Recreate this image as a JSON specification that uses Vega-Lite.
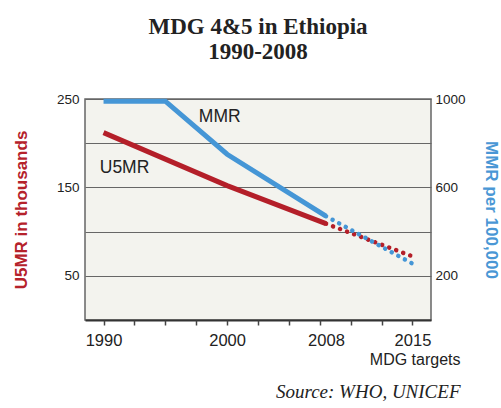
{
  "$schema": "https://vega.github.io/schema/vega-lite/v6.json",
  "width": 346,
  "height": 221,
  "padding": {"left": 12, "top": 16, "right": 0, "bottom": 0},
  "background": "white",
  "title": {
    "text": ["MDG 4&5 in Ethiopia", "1990-2008"],
    "font": "Liberation Serif",
    "fontSize": 23,
    "fontWeight": "bold",
    "color": "#222222",
    "lineHeight": 25,
    "offset": 27,
    "anchor": "middle"
  },
  "config": {
    "view": {"fill": "#f3f3ee", "stroke": "#666666", "strokeWidth": 1.5},
    "axis": {"labelFont": "Liberation Sans", "titleFont": "Liberation Sans", "labelColor": "#222222"}
  },
  "datasets": {
    "rates": [
      {"series": "U5MR", "part": "reported", "year": 1990, "value": 212},
      {"series": "U5MR", "part": "reported", "year": 2000, "value": 152},
      {"series": "U5MR", "part": "reported", "year": 2008, "value": 109},
      {"series": "U5MR", "part": "projected", "year": 2008, "value": 109},
      {"series": "U5MR", "part": "projected", "year": 2015, "value": 72},
      {"series": "U5MR", "part": "label", "year": 1991.7, "value": 172},
      {"series": "MMR", "part": "reported", "year": 1990, "value": 990},
      {"series": "MMR", "part": "reported", "year": 1995, "value": 990},
      {"series": "MMR", "part": "reported", "year": 2000, "value": 750},
      {"series": "MMR", "part": "reported", "year": 2008, "value": 470},
      {"series": "MMR", "part": "projected", "year": 2008, "value": 470},
      {"series": "MMR", "part": "projected", "year": 2015, "value": 255},
      {"series": "MMR", "part": "label", "year": 1999.4, "value": 918}
    ]
  },
  "data": {"name": "rates"},
  "layer": [
    {
      "encoding": {
        "x": {
          "field": "year",
          "type": "quantitative",
          "scale": {"domain": [1988.5, 2016.5], "nice": false, "zero": false},
          "axis": {
            "orient": "bottom",
            "values": [1990, 2000, 2008, 2015],
            "format": "d",
            "ticks": false,
            "grid": false,
            "domain": true,
            "domainColor": "#333333",
            "domainWidth": 2,
            "labelFontSize": 16.5,
            "labelPadding": 12,
            "title": "MDG targets",
            "titleFontSize": 16,
            "titleFontWeight": "normal",
            "titleColor": "#222222",
            "titleAnchor": "end",
            "titleAlign": "right",
            "titleBaseline": "alphabetic",
            "titleX": 375,
            "titleY": 44
          }
        },
        "y": {
          "field": "value",
          "type": "quantitative",
          "scale": {"domain": [0, 250], "nice": false},
          "axis": {
            "orient": "left",
            "values": [50, 100, 150, 200, 250],
            "labelExpr": "datum.value == 100 || datum.value == 200 ? '' : datum.label",
            "grid": true,
            "gridColor": "#666666",
            "gridWidth": 1.2,
            "gridOpacity": 1,
            "ticks": false,
            "domain": false,
            "labelFontSize": 13.5,
            "labelPadding": 6,
            "title": "U5MR in thousands",
            "titleColor": "#b5222b",
            "titleFontSize": 17,
            "titleFontWeight": "bold",
            "titlePadding": 26
          }
        }
      },
      "layer": [
        {
          "transform": [{"filter": "datum.series === 'U5MR' && datum.part === 'reported'"}],
          "mark": {"type": "line", "color": "#b41f29", "strokeWidth": 5}
        },
        {
          "transform": [{"filter": "datum.series === 'U5MR' && datum.part === 'projected'"}],
          "mark": {"type": "line", "color": "#b41f29", "strokeWidth": 4.5, "strokeDash": [0.1, 7.4], "strokeCap": "round"}
        },
        {
          "transform": [{"filter": "datum.series === 'U5MR' && datum.part === 'label'"}],
          "mark": {"type": "text", "font": "Liberation Sans", "fontSize": 17.5, "color": "#222222", "baseline": "middle", "align": "center"},
          "encoding": {"text": {"field": "series"}}
        }
      ]
    },
    {
      "encoding": {
        "x": {
          "field": "year",
          "type": "quantitative",
          "axis": {
            "orient": "bottom",
            "values": [1990, 1992.5, 1995, 1997.5, 2000, 2002.5, 2005, 2007.5, 2010, 2012.5, 2015],
            "labels": false,
            "ticks": true,
            "tickSize": 5,
            "tickColor": "#444444",
            "tickWidth": 1.5,
            "domain": false,
            "grid": false,
            "title": "Source: WHO, UNICEF",
            "titleFont": "Liberation Serif",
            "titleFontStyle": "italic",
            "titleFontWeight": "normal",
            "titleFontSize": 19,
            "titleColor": "#222222",
            "titleAnchor": "end",
            "titleAlign": "right",
            "titleBaseline": "alphabetic",
            "titleX": 375,
            "titleY": 77
          }
        },
        "y": {
          "field": "value",
          "type": "quantitative",
          "scale": {"domain": [0, 1000], "nice": false},
          "axis": {
            "orient": "right",
            "values": [200, 600, 1000],
            "format": "d",
            "grid": false,
            "ticks": false,
            "domain": false,
            "labelFontSize": 13.5,
            "labelPadding": 4,
            "title": "MMR per 100,000",
            "titleColor": "#4a97d5",
            "titleFontSize": 17,
            "titleFontWeight": "bold",
            "titleAngle": 90,
            "titlePadding": 16
          }
        }
      },
      "layer": [
        {
          "transform": [{"filter": "datum.series === 'MMR' && datum.part === 'reported'"}],
          "mark": {"type": "line", "color": "#4596d6", "strokeWidth": 5}
        },
        {
          "transform": [{"filter": "datum.series === 'MMR' && datum.part === 'projected'"}],
          "mark": {"type": "line", "color": "#4596d6", "strokeWidth": 4.5, "strokeDash": [0.1, 7.4], "strokeCap": "round"}
        },
        {
          "transform": [{"filter": "datum.series === 'MMR' && datum.part === 'label'"}],
          "mark": {"type": "text", "font": "Liberation Sans", "fontSize": 17.5, "color": "#222222", "baseline": "middle", "align": "center"},
          "encoding": {"text": {"field": "series"}}
        }
      ]
    }
  ],
  "resolve": {"scale": {"y": "independent"}, "axis": {"x": "independent", "y": "independent"}}
}
